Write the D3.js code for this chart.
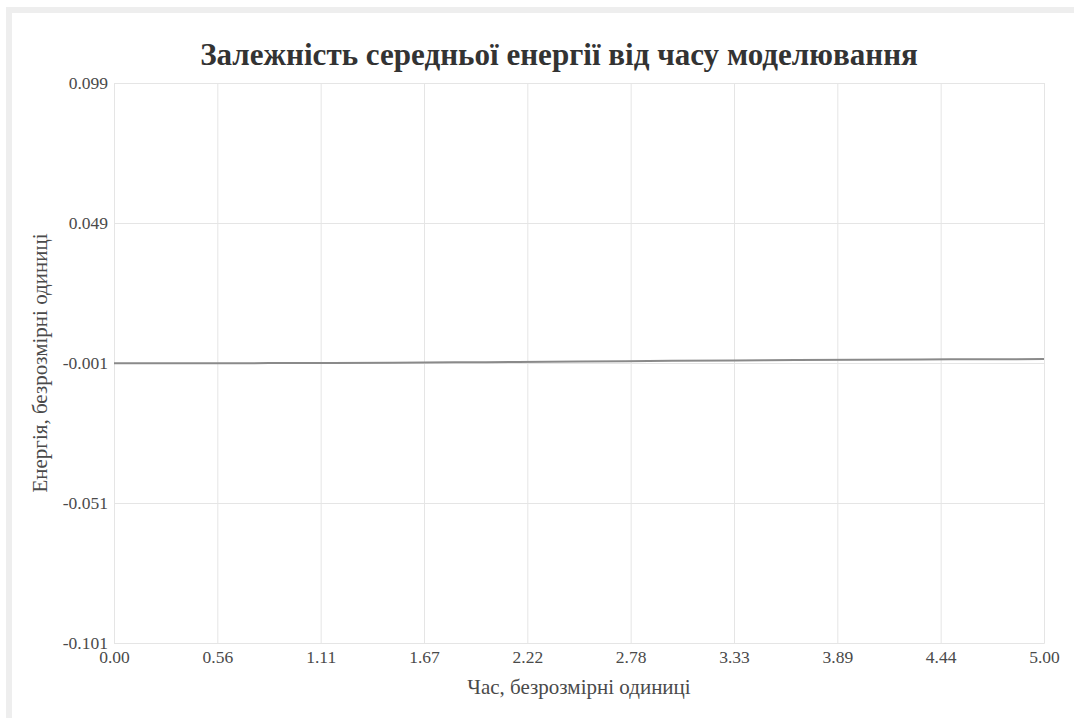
<!DOCTYPE html>
<html>
<head>
<meta charset="utf-8">
<script src="https://cdn.jsdelivr.net/npm/d3@7"></script>
<style>
  html, body { margin: 0; padding: 0; background: #ffffff; }
  svg { display: block; }
  svg text { font-family: "Liberation Serif", "Times New Roman", "DejaVu Serif", serif; }
</style>
</head>
<body>
<svg id="chart" width="1078" height="718"></svg>
<script>
// Simulation time (dimensionless units) and mean energy
const times = [0.0, 0.5, 1.0, 1.5, 2.0, 2.5, 3.0, 3.5, 4.0, 4.5, 5.0];
const energy = [-0.0011, -0.0011, -0.0010, -0.0009, -0.0007, -0.0005, -0.0002, 0.0000, 0.0002, 0.0003, 0.0004];

// Axis tick values and labels
const xTicks = [0, 5/9, 10/9, 15/9, 20/9, 25/9, 30/9, 35/9, 40/9, 5];
const yTicks = [-0.101, -0.051, -0.001, 0.049, 0.099];

const titleText = "Залежність середньої енергії від часу моделювання";
const xTitle = "Час, безрозмірні одиниці";
const yTitle = "Енергія, безрозмірні одиниці";

const svg = d3.select("#chart");
const W = 1078, H = 718;
const margin = { left: 114, right: 34, top: 83, bottom: 75 };
const plotW = W - margin.left - margin.right;
const plotH = H - margin.top - margin.bottom;

// Card frame
svg.append("rect").attr("x", 6).attr("y", 7).attr("width", 1068).attr("height", H)
  .attr("fill", "#eeeeee");
svg.append("rect").attr("x", 12).attr("y", 13).attr("width", 1062).attr("height", H)
  .attr("fill", "#ffffff");

const x = d3.scaleLinear().domain([0, 5]).range([0, plotW]);
const y = d3.scaleLinear().domain([-0.101, 0.099]).range([plotH, 0]);

const g = svg.append("g").attr("transform", `translate(${margin.left},${margin.top})`);

const gridColor = "#e5e5e5";
const fontFam = "Liberation Serif, Times New Roman, DejaVu Serif, serif";
const hyphen = f => v => f(v).replace("\u2212", "-");

// Vertical grid with x labels
const xAxis = g.append("g").attr("transform", `translate(0,${plotH})`)
  .call(d3.axisBottom(x).tickValues(xTicks).tickFormat(hyphen(d3.format(".2f")))
    .tickSize(-plotH).tickPadding(8));
xAxis.attr("font-family", fontFam).attr("font-size", 17.5);
xAxis.select(".domain").attr("stroke", gridColor);
xAxis.selectAll(".tick line").attr("stroke", gridColor);
xAxis.selectAll(".tick text").attr("fill", "#4a4a4a");

// Horizontal grid with y labels
const yAxis = g.append("g")
  .call(d3.axisLeft(y).tickValues(yTicks).tickFormat(hyphen(d3.format(".3f")))
    .tickSize(-plotW).tickPadding(6));
yAxis.attr("font-family", fontFam).attr("font-size", 17.5);
yAxis.select(".domain").attr("stroke", gridColor);
yAxis.selectAll(".tick line").attr("stroke", gridColor);
yAxis.selectAll(".tick text").attr("fill", "#4a4a4a");

// Energy line
const line = d3.line().x((d, i) => x(times[i])).y(d => y(d)).curve(d3.curveMonotoneX);
g.append("path").datum(energy)
  .attr("fill", "none").attr("stroke", "#8a8a8a").attr("stroke-width", 2)
  .attr("d", line);

// Title
const title = svg.append("text").attr("x", 559).attr("y", 65)
  .attr("text-anchor", "middle").attr("fill", "#333")
  .attr("font-family", fontFam).attr("font-weight", "bold").attr("font-size", 30)
  .text(titleText);
const tw = title.node().getComputedTextLength();
title.attr("font-size", (30 * 718 / tw).toFixed(2));

// Axis titles
svg.append("text").attr("x", margin.left + plotW / 2).attr("y", 694)
  .attr("text-anchor", "middle").attr("fill", "#4a4a4a")
  .attr("font-family", fontFam).attr("font-size", 21)
  .text(xTitle);

svg.append("text")
  .attr("transform", `translate(47,${margin.top + plotH / 2}) rotate(-90)`)
  .attr("text-anchor", "middle").attr("fill", "#4a4a4a")
  .attr("font-family", fontFam).attr("font-size", 21)
  .text(yTitle);
</script>
</body>
</html>
